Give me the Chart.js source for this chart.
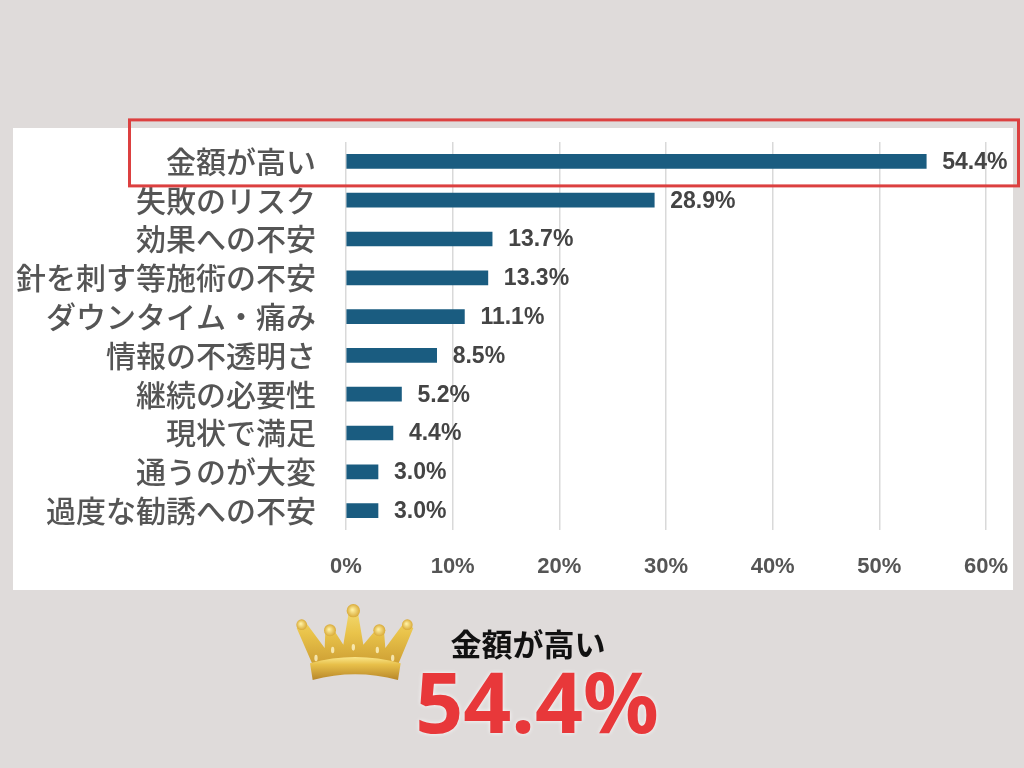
<!DOCTYPE html>
<html><head><meta charset="utf-8">
<script src="https://cdn.jsdelivr.net/npm/chart.js@4.4.1/dist/chart.umd.min.js"></script>
<style>
html,body{margin:0;padding:0;background:#dfdbda;}
#wrap{position:absolute;left:0;top:0;width:1024px;height:768px;}
</style></head>
<body>
<div id="wrap"><canvas id="c" width="1024" height="768"></canvas></div>
<script>
const categories = ["金額が高い","失敗のリスク","効果への不安","針を刺す等施術の不安","ダウンタイム・痛み","情報の不透明さ","継続の必要性","現状で満足","通うのが大変","過度な勧誘への不安"];
const values = [54.4, 28.9, 13.7, 13.3, 11.1, 8.5, 5.2, 4.4, 3.0, 3.0];
const tickValues = [0, 10, 20, 30, 40, 50, 60];
const highlightLabel = categories[0];
const highlightValue = values[0];

const CJK = '"Noto Sans CJK JP", "Noto Sans", sans-serif';
const LAT = '"Liberation Sans", Arial, sans-serif';

function drawCrown(ctx, ox, oy, s) {
  const P = (a, b) => [ox + a * s, oy + b * s];
  ctx.save();
  const g = ctx.createLinearGradient(0, oy + 10 * s, 0, oy + 250 * s);
  g.addColorStop(0, '#f6e27e');
  g.addColorStop(0.4, '#e9c34a');
  g.addColorStop(0.75, '#d0a236');
  g.addColorStop(1, '#b0822a');
  ctx.fillStyle = g;
  const body = [[68,200],[20,90],[48,74],[104,150],[106,100],[134,100],[160,140],[176,45],[204,45],[220,140],[254,100],[282,100],[286,150],[342,74],[370,90],[324,200]];
  ctx.beginPath();
  body.forEach((p, i) => { const q = P(p[0], p[1]); i ? ctx.lineTo(q[0], q[1]) : ctx.moveTo(q[0], q[1]); });
  const c1 = P(195, 175), e1 = P(68, 200);
  ctx.quadraticCurveTo(c1[0], c1[1], e1[0], e1[1]);
  ctx.closePath();
  ctx.fill();
  const balls = [[35,80,16],[120,97,18],[190,38,20],[268,97,18],[352,80,16]];
  balls.forEach(b => {
    const q = P(b[0], b[1]);
    const rg = ctx.createRadialGradient(q[0] - 1, q[1] - 1, 0.5, q[0], q[1], b[2] * s);
    rg.addColorStop(0, '#fff0a0');
    rg.addColorStop(1, '#d9aa38');
    ctx.fillStyle = rg;
    ctx.beginPath();
    ctx.arc(q[0], q[1], b[2] * s, 0, Math.PI * 2);
    ctx.fill();
  });
  const g2 = ctx.createLinearGradient(0, oy + 175 * s, 0, oy + 245 * s);
  g2.addColorStop(0, '#fbe98f');
  g2.addColorStop(0.35, '#e8c04a');
  g2.addColorStop(1, '#b8872a');
  ctx.fillStyle = g2;
  let a = P(60, 196), ca = P(195, 158), b = P(332, 196), d = P(324, 246), cd = P(195, 212), e = P(68, 246);
  ctx.beginPath();
  ctx.moveTo(a[0], a[1]);
  ctx.quadraticCurveTo(ca[0], ca[1], b[0], b[1]);
  ctx.lineTo(d[0], d[1]);
  ctx.quadraticCurveTo(cd[0], cd[1], e[0], e[1]);
  ctx.closePath();
  ctx.fill();
  ctx.fillStyle = 'rgba(255,248,210,0.75)';
  [[78,180],[128,156],[190,148],[262,156],[308,180]].forEach(p => {
    const q = P(p[0], p[1]);
    ctx.beginPath();
    ctx.ellipse(q[0], q[1], 5 * s, 10 * s, 0, 0, Math.PI * 2);
    ctx.fill();
  });
  ctx.restore();
}

const decor = {
  id: 'decor',
  beforeDraw(chart) {
    const ctx = chart.ctx;
    ctx.save();
    ctx.fillStyle = '#dfdbda';
    ctx.fillRect(0, 0, 1024, 768);
    ctx.fillStyle = '#ffffff';
    ctx.fillRect(13, 128, 1000, 462);
    ctx.restore();
  },
  afterDraw(chart) {
    const ctx = chart.ctx;
    const ys = chart.scales.y;
    const cy = ys.getPixelForValue(0);
    ctx.save();
    ctx.strokeStyle = '#dc4040';
    ctx.lineWidth = 3;
    ctx.strokeRect(129.5, cy - 41.5, 889, 66);
    const xs = chart.scales.x;
    ctx.fillStyle = '#444444';
    ctx.font = 'bold 23px ' + LAT;
    ctx.textAlign = 'left';
    ctx.textBaseline = 'middle';
    values.forEach((v, i) => {
      ctx.fillText(v.toFixed(1) + '%', xs.getPixelForValue(v) + 16, ys.getPixelForValue(i) + 1);
    });
    drawCrown(ctx, 290, 598, 1 / 3);
    ctx.fillStyle = '#111111';
    ctx.font = 'bold 31px ' + CJK;
    ctx.textAlign = 'center';
    ctx.textBaseline = 'middle';
    ctx.fillText(highlightLabel, 528, 644);
    ctx.fillStyle = '#e8383a';
    ctx.shadowColor = 'rgba(255,255,255,0.9)';
    ctx.shadowBlur = 4;
    ctx.font = 'bold 84px "Noto Sans", ' + LAT;
    ctx.textBaseline = 'alphabetic';
    ctx.fillText(highlightValue.toFixed(1) + '%', 537, 733);
    ctx.restore();
  }
};

new Chart(document.getElementById('c'), {
  type: 'bar',
  data: {
    labels: categories,
    datasets: [{
      data: values,
      backgroundColor: '#1a5c80',
      barThickness: 14,
      borderWidth: 0
    }]
  },
  options: {
    indexAxis: 'y',
    responsive: false,
    animation: false,
    devicePixelRatio: 1,
    layout: { padding: { left: 0, right: 0, top: 142, bottom: 0 } },
    plugins: { legend: { display: false }, tooltip: { enabled: false } },
    scales: {
      x: {
        min: 0, max: 60,
        afterBuildTicks(scale) { scale.ticks = tickValues.map(v => ({ value: v })); },
        afterFit(scale) { scale.height = 238; },
        border: { display: false },
        grid: { color: '#d9d9d9', lineWidth: 1.5, drawTicks: true, tickLength: 8, tickColor: 'rgba(0,0,0,0)' },
        ticks: {
          padding: 16,
          color: '#555555',
          font: { family: LAT, size: 22, weight: 'bold' },
          callback: v => v + '%'
        }
      },
      y: {
        afterFit(scale) { scale.width = 346; },
        border: { display: false },
        grid: { display: false, drawTicks: false },
        ticks: {
          autoSkip: false,
          padding: 30,
          color: '#555555',
          font: { family: CJK, size: 30, weight: '500' }
        }
      }
    }
  },
  plugins: [decor]
});
</script>
</body></html>
